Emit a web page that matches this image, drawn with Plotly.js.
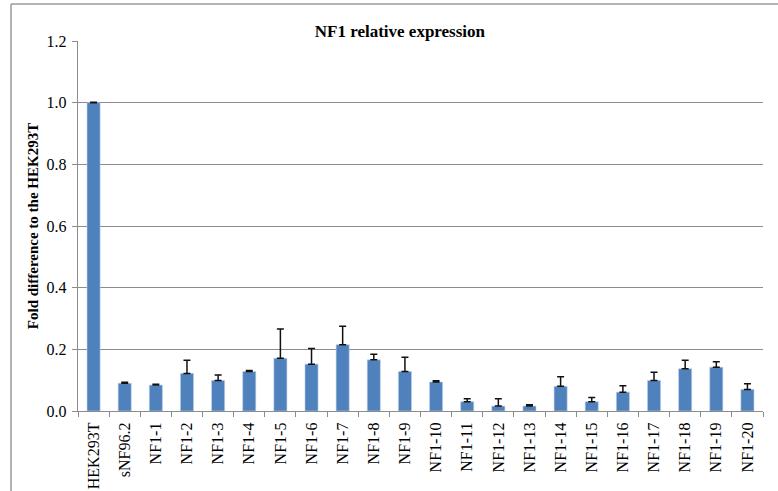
<!DOCTYPE html>
<html>
<head>
<meta charset="utf-8">
<script src="https://cdn.plot.ly/plotly-3.0.1.min.js"></script>
<style>html,body{margin:0;padding:0;background:#fff;}#chart{width:778px;height:491px;}</style>
</head>
<body>
<div id="chart"></div>
<script>
var categories = ["HEK293T","sNF96.2","NF1-1","NF1-2","NF1-3","NF1-4","NF1-5","NF1-6","NF1-7","NF1-8","NF1-9","NF1-10","NF1-11","NF1-12","NF1-13","NF1-14","NF1-15","NF1-16","NF1-17","NF1-18","NF1-19","NF1-20"];
var values = [1.000,0.090,0.084,0.122,0.099,0.128,0.171,0.152,0.215,0.166,0.128,0.094,0.030,0.016,0.016,0.080,0.030,0.061,0.099,0.137,0.142,0.070];
var errors = [0.001,0.003,0.003,0.043,0.018,0.003,0.095,0.051,0.060,0.018,0.046,0.004,0.010,0.024,0.004,0.031,0.014,0.021,0.027,0.028,0.018,0.018];
var yTicks = [0,0.2,0.4,0.6,0.8,1.0,1.2];
var yTickText = ["0.0","0.2","0.4","0.6","0.8","1.0","1.2"];

var serif = "'Liberation Serif', serif";
var trace = {
  type: "bar",
  x: categories,
  y: values,
  marker: {color: "#4f81bd", line: {color: "#bcd0e8", width: 0.6}},
  error_y: {type: "data", array: errors, arrayminus: errors.map(function(){return 0;}), symmetric: false, visible: true, color: "#111", thickness: 1.5, width: 3.5},
  hoverinfo: "x+y"
};
var layout = {
  width: 778, height: 491,
  margin: {l: 78, r: 15, t: 41, b: 80},
  paper_bgcolor: "#fff", plot_bgcolor: "#fff",
  showlegend: false,
  bargap: 0.58,
  font: {family: serif},
  title: {text: "<b>NF1 relative expression</b>", font: {family: serif, size: 17, color: "#000"}, x: 0.514, xanchor: "center", y: 0.937, yanchor: "middle"},
  xaxis: {
    type: "category",
    tickangle: -90,
    tickfont: {family: serif, size: 16, color: "#000"},
    showline: true, linecolor: "#8c8c8c", linewidth: 1.2,
    ticks: "outside", tickson: "boundaries", ticklen: 5, tickcolor: "#8c8c8c",
    ticklabelstandoff: 4,
    showgrid: false, zeroline: false,
    automargin: false
  },
  yaxis: {
    range: [0, 1.2],
    tickvals: yTicks, ticktext: yTickText,
    tickfont: {family: serif, size: 16, color: "#000"},
    showline: true, linecolor: "#8c8c8c", linewidth: 1.2,
    ticks: "outside", ticklen: 5, tickcolor: "#8c8c8c",
    ticklabelstandoff: 2,
    showgrid: true, gridcolor: "#8c8c8c", gridwidth: 1,
    zeroline: false,
    automargin: false,
    title: {text: "<b>Fold difference to the HEK293T</b>", font: {family: serif, size: 15, color: "#000"}, standoff: 4}
  },
  shapes: [
    {type: "line", xref: "paper", yref: "paper", x0: -0.0978, x1: 1.03, y0: 1.1, y1: 1.1, line: {color: "#9a9a9a", width: 1.5}},
    {type: "line", xref: "paper", yref: "paper", x0: -0.0978, x1: -0.0978, y0: 1.1, y1: -0.25, line: {color: "#9a9a9a", width: 1.5}}
  ]
};
Plotly.newPlot("chart", [trace], layout, {displayModeBar: false, staticPlot: true});
</script>
</body>
</html>
